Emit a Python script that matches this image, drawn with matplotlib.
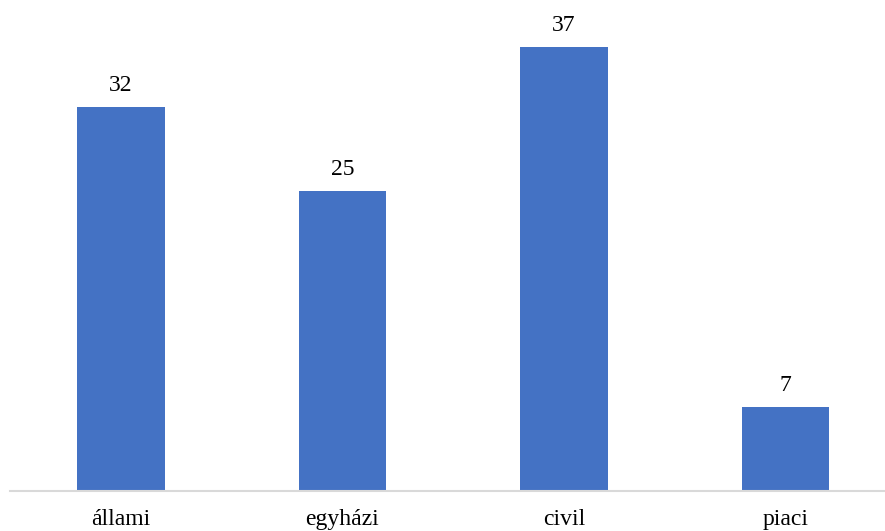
import matplotlib
matplotlib.use("Agg")
import matplotlib.pyplot as plt

CATS = ["állami", "egyházi", "civil", "piaci"]
VALUES = [32, 25, 37, 7]

BAR = "#4472C4"
AXIS = "#D9D9D9"
plt.rcParams["font.family"] = ["Liberation Serif", "DejaVu Serif"]

fig = plt.figure(figsize=(8.85, 5.31), dpi=100)
ax = fig.add_axes([10 / 885, 40 / 531, 875 / 885, 480 / 531])
x = range(len(CATS))
bars = ax.bar(x, VALUES, width=0.395, color=BAR, zorder=2)
for b, v in zip(bars, VALUES):
    ax.text(b.get_x() + b.get_width() / 2, v + 0.95, str(v), ha="center", va="bottom",
            fontsize=17, color="#000000")
ax.set_xlim(-0.5, 3.45)
ax.set_ylim(0, 40)
ax.set_xticks(list(x))
ax.set_xticklabels(CATS, fontsize=17)
ax.tick_params(axis="x", length=0, pad=13)
ax.set_yticks([])
for sp in ["top", "right", "left"]:
    ax.spines[sp].set_visible(False)
ax.spines["bottom"].set_color(AXIS)
ax.spines["bottom"].set_linewidth(1.5)
fig.savefig("out.png", dpi=100, facecolor="white")
